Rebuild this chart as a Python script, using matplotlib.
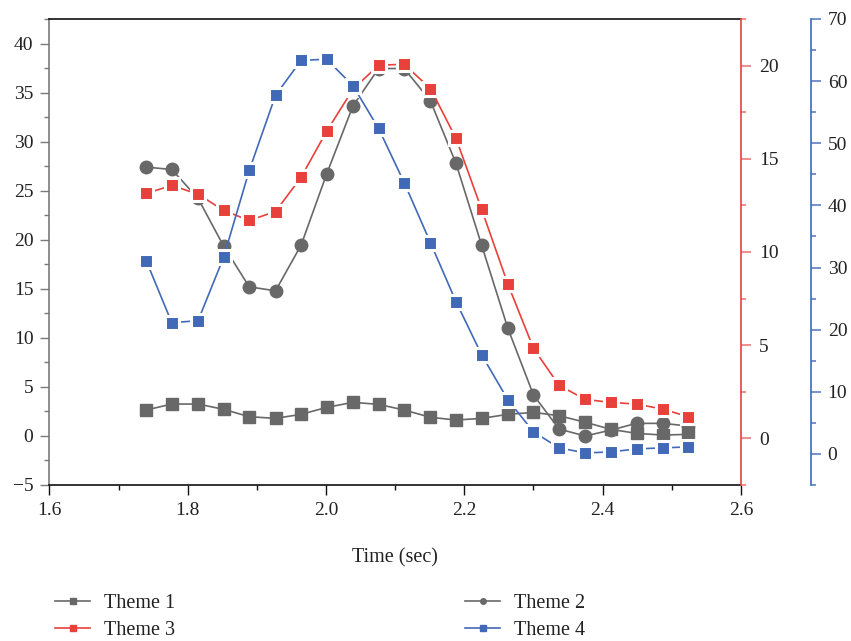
import matplotlib
matplotlib.use("Agg")
import matplotlib.pyplot as plt
from matplotlib.lines import Line2D
from matplotlib.ticker import MultipleLocator

plt.rcParams["font.family"] = ["Liberation Serif", "DejaVu Serif"]

# Data
time = [1.740, 1.777, 1.815, 1.852, 1.889, 1.927, 1.964, 2.001, 2.039, 2.076, 2.113,
        2.151, 2.188, 2.225, 2.263, 2.300, 2.337, 2.375, 2.412, 2.449, 2.487, 2.524]

theme1 = [2.64, 3.25, 3.25, 2.71, 1.96, 1.79, 2.20, 2.91, 3.42, 3.22, 2.64,
          1.90, 1.62, 1.79, 2.20, 2.40, 2.06, 1.39, 0.67, 0.26, 0.09, 0.16]
theme2 = [27.40, 27.16, 24.21, 19.35, 15.20, 14.79, 19.45, 26.71, 33.64, 37.45, 37.45,
          34.15, 27.77, 19.45, 10.96, 4.17, 0.70, -0.01, 0.60, 1.28, 1.28, 1.01]
theme3 = [13.14, 13.57, 13.10, 12.23, 11.69, 12.17, 14.01, 16.48, 18.73, 20.02, 20.07,
          18.77, 16.09, 12.29, 8.27, 4.83, 2.84, 2.09, 1.93, 1.84, 1.57, 1.16]
theme4 = [31.11, 21.12, 21.44, 31.64, 45.62, 57.70, 63.35, 63.51, 59.25, 52.39, 43.68,
          34.01, 24.50, 15.96, 8.70, 3.55, 0.97, 0.16, 0.32, 0.81, 0.97, 1.13]

labels = ["Theme 1", "Theme 2", "Theme 3", "Theme 4"]

gray = "#686868"
red = "#E8403A"
blue = "#4169B8"

fig = plt.figure(figsize=(8.51, 6.41), dpi=100)
ax = fig.add_axes([0.058, 0.2434, 0.8127, 0.727])
ax_r = ax.twinx()
ax_b = ax.twinx()

# Theme 1 and 2 on the left axis
ax.plot(time, theme1, color=gray, lw=1.2, marker="s", ms=8, mec=gray)
ax.plot(time, theme2, color=gray, lw=1.2, marker="o", ms=9, mec=gray)

# Theme 3 on the red axis, Theme 4 on the blue axis (gap around symbols)
ax_r.plot(time, theme3, color=red, lw=1.2, marker="s", ms=10, mfc=red,
          mec="white", mew=2.2)
ax_b.plot(time, theme4, color=blue, lw=1.2, marker="s", ms=10, mfc=blue,
          mec="white", mew=2.2)

ax.set_xlim(1.6, 2.6)
ax.set_ylim(-5, 42.5)
ax_r.set_ylim(-2.5, 22.5)
ax_b.set_ylim(-5, 70)

ax.xaxis.set_major_locator(MultipleLocator(0.2))
ax.xaxis.set_minor_locator(MultipleLocator(0.1))
ax.yaxis.set_major_locator(MultipleLocator(5))
ax.yaxis.set_minor_locator(MultipleLocator(2.5))
ax_r.yaxis.set_major_locator(MultipleLocator(5))
ax_r.yaxis.set_minor_locator(MultipleLocator(2.5))
ax_b.yaxis.set_major_locator(MultipleLocator(10))
ax_b.yaxis.set_minor_locator(MultipleLocator(5))

# spines
ax.spines["left"].set_color("#7a7a7a")
ax.spines["bottom"].set_color("#111111")
ax.spines["top"].set_color("#111111")
ax.spines["right"].set_visible(False)
ax_r.spines["right"].set_color(red)
for s in ["left", "top", "bottom"]:
    ax_r.spines[s].set_visible(False)
    ax_b.spines[s].set_visible(False)
ax_b.spines["right"].set_position(("outward", 50.4))
ax_b.spines["right"].set_color(blue)
for a in (ax, ax_r, ax_b):
    for sp in a.spines.values():
        sp.set_linewidth(1.2)

fs_tick = 14
ax.tick_params(axis="y", which="major", direction="out", length=6.5, width=1,
               color="#7a7a7a", labelsize=fs_tick, pad=5, labelcolor="#222222")
ax.tick_params(axis="y", which="minor", direction="out", length=3.6, width=1,
               color="#7a7a7a")
ax.tick_params(axis="x", which="major", direction="out", length=7, width=1,
               color="#111111", labelsize=fs_tick, pad=5, labelcolor="#222222")
ax.tick_params(axis="x", which="minor", direction="out", length=3.6, width=1,
               color="#111111")
ax_r.tick_params(axis="y", which="major", direction="out", length=7, width=1.2,
                 color="#F07A74", labelsize=fs_tick, pad=6, labelcolor="#222222")
ax_r.tick_params(axis="y", which="minor", direction="out", length=3.6, width=1.2,
                 color="#F07A74")
ax_b.tick_params(axis="y", which="major", direction="out", length=7, width=1.2,
                 color="#5A7FC8", labelsize=fs_tick, pad=5, labelcolor="#222222")
ax_b.tick_params(axis="y", which="minor", direction="out", length=3.6, width=1.2,
                 color="#5A7FC8")

ax.set_xlabel("Time (sec)", fontsize=14.5, color="#222222")
ax.xaxis.set_label_coords(0.5, -0.135)

# legend in two columns below the plot
h1 = Line2D([], [], color=gray, lw=1.2, marker="s", ms=4)
h2 = Line2D([], [], color=gray, lw=1.2, marker="o", ms=4)
h3 = Line2D([], [], color=red, lw=1.2, marker="s", ms=4)
h4 = Line2D([], [], color=blue, lw=1.2, marker="s", ms=4)

leg_kw = dict(loc="upper left", frameon=False, fontsize=14.5, borderpad=0,
              borderaxespad=0, handlelength=1.75, handletextpad=0.7,
              labelspacing=0.38, labelcolor="#222222")
fig.legend([h1, h3], [labels[0], labels[2]], bbox_to_anchor=(0.0646, 0.073), **leg_kw)
fig.legend([h2, h4], [labels[1], labels[3]], bbox_to_anchor=(0.5464, 0.073), **leg_kw)

plt.savefig("out.png", dpi=100)
plt.close()
